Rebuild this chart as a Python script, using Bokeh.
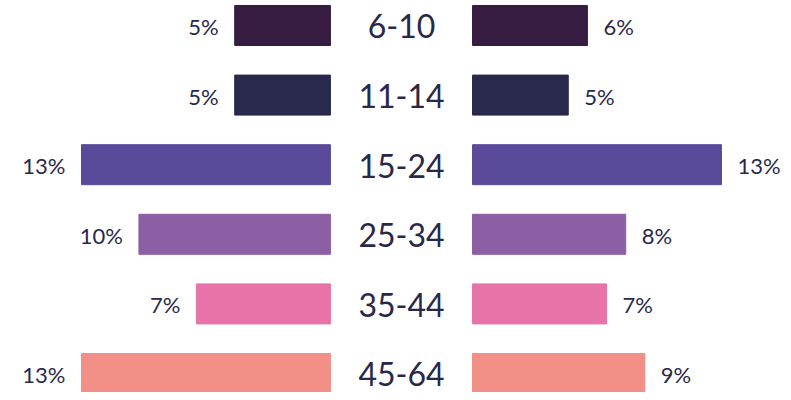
from bokeh.plotting import figure
from bokeh.models import Range1d, ColumnDataSource
from bokeh.core.properties import value
from bokeh.embed import file_html
from bokeh.resources import INLINE

# ---- data ----
age_groups = ["6-10", "11-14", "15-24", "25-34", "35-44", "45-64"]
left_values = [5, 5, 13, 10, 7, 13]
right_values = [6, 5, 13, 8, 7, 9]
bar_colors = ["#351c40", "#29294e", "#5b4a99", "#8c5ea3", "#e773a8", "#f29087"]

# ---- layout constants ----
GAP = 3.71          # half-gap between the two sides, in percent units
BAR_H = 0.575
TEXT_COLOR = "#29284b"
FONT = "Lato"

rows = list(range(len(age_groups)))
src = ColumnDataSource(dict(
    y=rows,
    label=age_groups,
    l_left=[-(GAP + v) for v in left_values],
    l_right=[-GAP] * len(rows),
    r_left=[GAP] * len(rows),
    r_right=[GAP + v for v in right_values],
    l_txt=[f"{v}%" for v in left_values],
    r_txt=[f"{v}%" for v in right_values],
    color=bar_colors,
))

p = figure(width=783, height=392, output_backend="svg", toolbar_location=None,
           x_range=Range1d(-20.94, 19.95), y_range=Range1d(5.273, -0.359),
           min_border=0, outline_line_color=None)
p.axis.visible = False
p.grid.visible = False
p.background_fill_color = "white"
p.border_fill_color = "white"

p.hbar(y="y", left="l_left", right="l_right", height=BAR_H, color="color", source=src)
p.hbar(y="y", left="r_left", right="r_right", height=BAR_H, color="color", source=src)

p.text(x=0, y="y", text="label", source=src, text_align="center", text_baseline="middle",
       text_font=value(FONT), text_font_size="32px", text_color=TEXT_COLOR, y_offset=1)
p.text(x="l_left", y="y", text="l_txt", source=src, text_align="right", text_baseline="middle",
       text_font=value(FONT), text_font_size="22px", text_color=TEXT_COLOR, x_offset=-16, y_offset=1)
p.text(x="r_right", y="y", text="r_txt", source=src, text_align="left", text_baseline="middle",
       text_font=value(FONT), text_font_size="22px", text_color=TEXT_COLOR, x_offset=16, y_offset=1)

open("out.html", "w").write(file_html(p, INLINE))
